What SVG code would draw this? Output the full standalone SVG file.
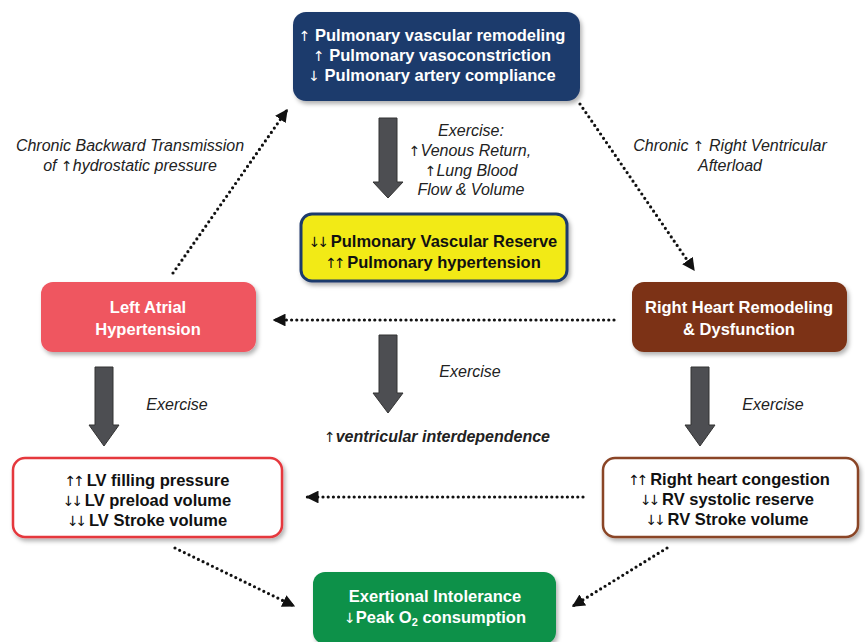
<svg xmlns="http://www.w3.org/2000/svg" width="865" height="642" viewBox="0 0 865 642">
<defs>
<filter id="sh" x="-10%" y="-10%" width="125%" height="130%">
<feDropShadow dx="2" dy="3" stdDeviation="2" flood-color="#000" flood-opacity="0.3"/>
</filter>
<marker id="ah" viewBox="0 0 10 10" refX="9" refY="5" markerWidth="4" markerHeight="4" orient="auto">
<path d="M0,0 L10,5 L0,10 Z" fill="#111"/>
</marker>
</defs>
<style>
text{font-family:"Liberation Sans","DejaVu Sans",Arial,sans-serif;text-anchor:middle}
.b{font-weight:bold;font-size:16.5px}
.w{fill:#fff}
.k{fill:#111}
.i{font-style:italic;font-size:16px;fill:#222}
.ar{font-family:"DejaVu Sans",sans-serif;font-weight:normal;font-size:14px}
.ar2{font-family:"DejaVu Sans",sans-serif;font-weight:normal;font-size:14px;letter-spacing:-3px}
.dot{fill:none;stroke:#111;stroke-width:3.2;stroke-dasharray:0 5.2;stroke-linecap:round}
.ga{fill:#4d4e52;stroke:#333;stroke-width:1}
</style>
<rect width="865" height="642" fill="#fff"/>

<g id="connectors">
<path class="dot" d="M173,273 L287,110" marker-end="url(#ah)"/>
<path class="dot" d="M580,104 L694,270" marker-end="url(#ah)"/>
<path class="dot" d="M614,320 L274,320" marker-end="url(#ah)"/>
<path class="dot" d="M583,497 L307,497" marker-end="url(#ah)"/>
<path class="dot" d="M175,548 L294,606" marker-end="url(#ah)"/>
<path class="dot" d="M667,548 L573,606" marker-end="url(#ah)"/>
</g>

<g id="exercise-arrows">
<path class="ga" d="M379,118 L397,118 L397,182 L403,182 L388,198 L373,182 L379,182 Z"/>
<path class="ga" d="M379,335 L397,335 L397,393 L403,393 L388,413 L373,393 L379,393 Z"/>
<path class="ga" d="M95,367 L113,367 L113,425 L119,425 L104,446 L89,425 L95,425 Z"/>
<path class="ga" d="M691,367 L709,367 L709,425 L715,425 L700,446 L685,425 L691,425 Z"/>
</g>

<g id="labels">
<text class="i" x="471" y="136">Exercise:</text>
<text class="i" x="470" y="156"><tspan class="ar">↑</tspan>Venous Return,</text>
<text class="i" x="471" y="176"><tspan class="ar">↑</tspan>Lung Blood</text>
<text class="i" x="471" y="195">Flow &amp; Volume</text>
<text class="i" x="130" y="151">Chronic Backward Transmission</text>
<text class="i" x="130" y="171">of <tspan class="ar">↑</tspan>hydrostatic pressure</text>
<text class="i" x="730" y="151">Chronic <tspan class="ar">↑</tspan> Right Ventricular</text>
<text class="i" x="730" y="171">Afterload</text>
<text class="i" x="177" y="410">Exercise</text>
<text class="i" x="470" y="377">Exercise</text>
<text class="i" x="773" y="410">Exercise</text>
<text class="i" x="437" y="442" style="font-weight:bold"><tspan class="ar">↑</tspan>ventricular interdependence</text>
</g>

<g id="pulmonary-vascular">
<rect x="293" y="12" width="287" height="89" rx="13" fill="#1e3a6c" filter="url(#sh)"/>
<text class="b w" x="432" y="41"><tspan class="ar">↑</tspan> Pulmonary vascular remodeling</text>
<text class="b w" x="432" y="61"><tspan class="ar">↑</tspan> Pulmonary vasoconstriction</text>
<text class="b w" x="432" y="81"><tspan class="ar">↓</tspan> Pulmonary artery compliance</text>
</g>

<g id="pulmonary-reserve">
<rect x="301" y="214" width="266" height="67" rx="11" fill="#f2ea16" stroke="#1e3a6c" stroke-width="3" filter="url(#sh)"/>
<text class="b k" x="433" y="247"><tspan class="ar2">↓↓</tspan><tspan> Pulmonary Vascular Reserve</tspan></text>
<text class="b k" x="433" y="268"><tspan class="ar2">↑↑</tspan><tspan> Pulmonary hypertension</tspan></text>
</g>

<g id="left-atrial">
<rect x="41" y="282" width="215" height="70" rx="12" fill="#ef5660" filter="url(#sh)"/>
<text class="b w" x="148" y="313">Left Atrial</text>
<text class="b w" x="148" y="335">Hypertension</text>
</g>

<g id="right-heart">
<rect x="632" y="282" width="215" height="70" rx="12" fill="#7b3315" filter="url(#sh)"/>
<text class="b w" x="739" y="313">Right Heart Remodeling</text>
<text class="b w" x="739" y="335">&amp; Dysfunction</text>
</g>

<g id="lv">
<rect x="13" y="458" width="269" height="79" rx="12" fill="#fff" stroke="#e5373d" stroke-width="2.5" filter="url(#sh)"/>
<text class="b k" x="147" y="486"><tspan class="ar2">↑↑</tspan><tspan> LV filling pressure</tspan></text>
<text class="b k" x="147" y="506"><tspan class="ar2">↓↓</tspan><tspan> LV preload volume</tspan></text>
<text class="b k" x="147" y="526"><tspan class="ar2">↓↓</tspan><tspan> LV Stroke volume</tspan></text>
</g>

<g id="rv">
<rect x="603" y="458" width="255" height="79" rx="12" fill="#fff" stroke="#8a4526" stroke-width="2.5" filter="url(#sh)"/>
<text class="b k" x="729" y="485"><tspan class="ar2">↑↑</tspan><tspan> Right heart congestion</tspan></text>
<text class="b k" x="727" y="505"><tspan class="ar2">↓↓</tspan><tspan> RV systolic reserve</tspan></text>
<text class="b k" x="727" y="525"><tspan class="ar2">↓↓</tspan><tspan> RV Stroke volume</tspan></text>
</g>

<g id="exertional">
<rect x="313" y="572" width="243" height="72" rx="12" fill="#10914a" filter="url(#sh)"/>
<text class="b w" x="435" y="602">Exertional Intolerance</text>
<text class="b w" x="435" y="623"><tspan class="ar">↓</tspan>Peak O<tspan font-size="11" dy="3">2</tspan><tspan dy="-3"> consumption</tspan></text>
</g>
</svg>
